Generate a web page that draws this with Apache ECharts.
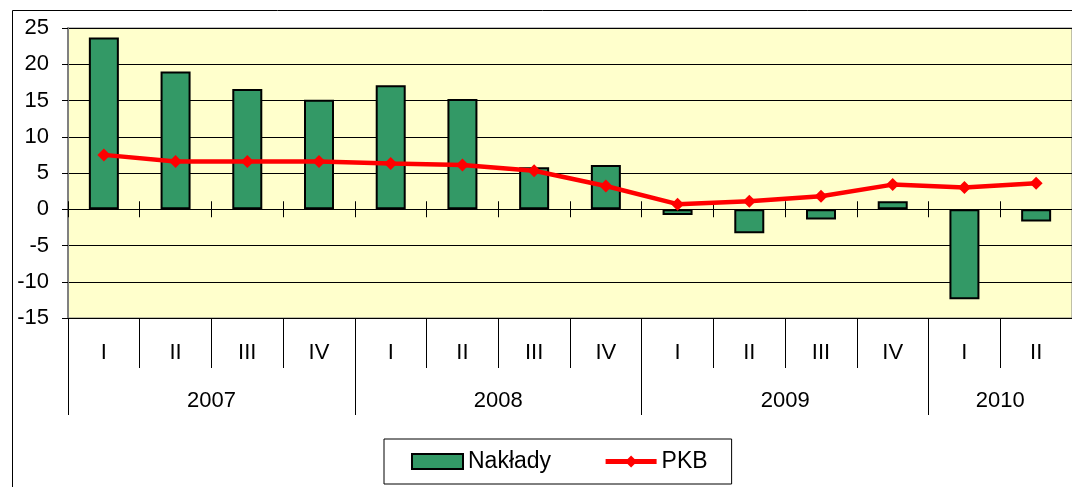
<!DOCTYPE html>
<html>
<head>
<meta charset="utf-8">
<script src="https://cdn.jsdelivr.net/npm/echarts@6/dist/echarts.min.js"></script>
<style>
  html, body { margin: 0; padding: 0; background: #fff; }
  #chart { width: 1072px; height: 487px; }
</style>
</head>
<body>
<div id="chart"></div>
<script>
// kwartały i lata
const quarters = ['I', 'II', 'III', 'IV', 'I', 'II', 'III', 'IV', 'I', 'II', 'III', 'IV', 'I', 'II']
const years = ['2007', '2008', '2009', '2010']
const quartersPerYear = [4, 4, 4, 2]

// dynamika (%)
const naklady = [23.7, 19.0, 16.6, 15.1, 17.1, 15.2, 5.8, 6.1, -0.8, -3.3, -1.4, 1.1, -12.4, -1.7]
const pkb = [7.5, 6.6, 6.6, 6.6, 6.3, 6.1, 5.3, 3.2, 0.7, 1.1, 1.8, 3.4, 3.0, 3.6]

const yTicks = { min: -15, max: 25, step: 5 }

// granice lat i środki etykiet lat (w jednostkach kategorii)
let yearBounds = [0]
let yearMids = []
quartersPerYear.forEach(n => {
  const start = yearBounds[yearBounds.length - 1]
  yearMids.push(start + n / 2)
  yearBounds.push(start + n)
})

const font = 'Liberation Sans, Arial, sans-serif'
const chart = echarts.init(document.getElementById('chart'))

const option = {
  animation: false,
  textStyle: { fontFamily: font },
  graphic: [{
    type: 'rect', left: 10, top: 8, silent: true,
    shape: { width: 1100, height: 500 },
    style: { fill: 'none', stroke: '#000', lineWidth: 1 }
  }],
  grid: {
    left: 68, top: 28, width: 1010, height: 290,
    show: true, backgroundColor: '#FFFFCC', borderColor: '#808080', borderWidth: 1
  },
  legend: {
    left: 384, top: 439,
    padding: [11, 24, 11, 27],
    borderColor: '#000', borderWidth: 1,
    itemWidth: 51, itemHeight: 15, itemGap: 52,
    lineStyle: { width: 5 },
    textStyle: { fontSize: 23, color: '#000', fontFamily: font },
    data: [{ name: 'Nakłady', icon: 'rect' }, 'PKB']
  },
  xAxis: [
    { // ticks pod linią zera
      type: 'category', data: quarters, position: 'bottom',
      axisLine: { show: false, onZero: true, onZeroAxisIndex: 0 },
      axisTick: { show: true, length: 8, lineStyle: { color: '#000' } },
      axisLabel: { show: false }
    },
    { // ticks nad linią zera
      type: 'category', data: quarters, position: 'top',
      axisLine: { show: false, onZero: true, onZeroAxisIndex: 0 },
      axisTick: { show: true, length: 8, lineStyle: { color: '#000' } },
      axisLabel: { show: false }
    },
    { // kwartały
      type: 'category', data: quarters, position: 'bottom',
      axisLine: { show: false, onZero: false },
      axisTick: { show: true, length: 50, interval: 0, lineStyle: { color: '#000' } },
      axisLabel: { interval: 0, margin: 24, fontSize: 22, color: '#000' }
    },
    { // lata
      type: 'value', position: 'bottom', min: 0, max: quarters.length,
      axisLine: { show: false, onZero: false },
      splitLine: { show: false },
      axisTick: { show: true, length: 97, customValues: yearBounds, lineStyle: { color: '#000' } },
      axisLabel: {
        margin: 72, fontSize: 22, color: '#000',
        customValues: yearMids,
        formatter: v => years[yearMids.indexOf(v)]
      }
    }
  ],
  yAxis: {
    type: 'value', min: yTicks.min, max: yTicks.max, interval: yTicks.step,
    axisLine: { show: true, onZero: false, lineStyle: { color: '#808080', width: 2 } },
    axisTick: { show: true, length: 6, lineStyle: { color: '#000' } },
    axisLabel: { margin: 19, fontSize: 22, color: '#000' },
    splitLine: { lineStyle: { color: '#000', width: 1 } }
  },
  series: [
    {
      name: 'Nakłady', type: 'bar', xAxisIndex: 0, data: naklady,
      barWidth: 30,
      itemStyle: { color: '#339966', borderColor: '#000', borderWidth: 2 }
    },
    {
      name: 'PKB', type: 'line', xAxisIndex: 0, data: pkb, z: 5,
      symbol: 'diamond', symbolSize: 13,
      lineStyle: { color: '#FF0000', width: 4.5 },
      itemStyle: { color: '#FF0000' }
    }
  ]
}

chart.setOption(option)
</script>
</body>
</html>
